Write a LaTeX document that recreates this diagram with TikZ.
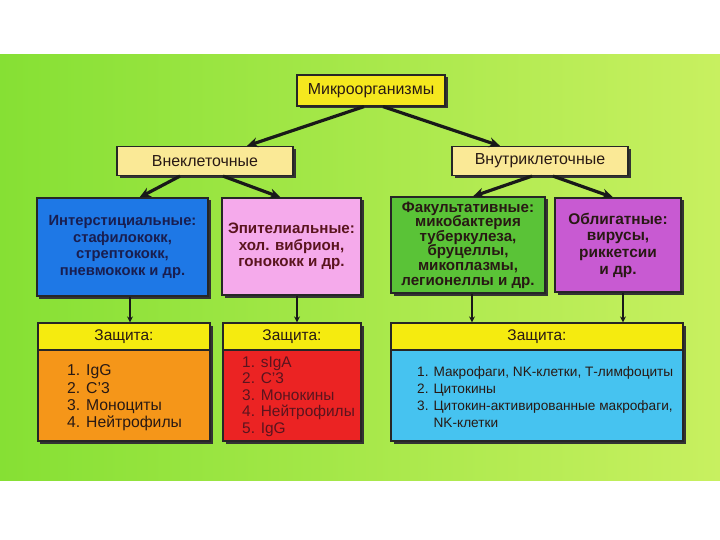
\documentclass[tikz,border=0pt]{standalone}
\usepackage{fontspec}
\setmainfont{Liberation Sans}
\usetikzlibrary{arrows.meta,shadows}
\definecolor{bgL}{RGB}{134,224,52}
\definecolor{bgR}{RGB}{200,240,96}
\definecolor{topY}{RGB}{245,232,30}
\definecolor{paleY}{RGB}{250,233,150}
\definecolor{cBlue}{RGB}{30,120,230}
\definecolor{cPink}{RGB}{245,170,235}
\definecolor{cGreen}{RGB}{90,195,55}
\definecolor{cViolet}{RGB}{200,90,210}
\definecolor{cOrange}{RGB}{245,150,25}
\definecolor{cRed}{RGB}{235,35,35}
\definecolor{cLBlue}{RGB}{70,195,240}
\definecolor{hdrY}{RGB}{245,235,15}
\definecolor{ink}{RGB}{40,25,20}
\definecolor{navy}{RGB}{25,30,80}
\definecolor{maroon}{RGB}{90,20,30}
\begin{document}
\begin{tikzpicture}[x=1bp,y=-1bp,
  box/.style={draw=black!85, line width=1.2bp, inner sep=0pt, align=center, text=ink,
    drop shadow={shadow xshift=2.5bp, shadow yshift=-2.5bp, fill=black!80, opacity=1}},
  hdr/.style={draw=black!85, line width=1.2bp, fill=hdrY, inner sep=0pt, text=ink,
    font=\fontsize{15.5}{17}\selectfont},
  fat/.style={line width=3.2bp, draw=black!90, -{Stealth[length=11bp,width=10bp]}},
  thin/.style={line width=2bp, draw=black!90, -{Stealth[length=6bp,width=6bp]}},
  lst/.style={anchor=north west, align=left, inner sep=0pt, text=ink}
]
\useasboundingbox (0,0) rectangle (720,540);
\fill[white] (0,0) rectangle (720,540);
\shade[left color=bgL, right color=bgR] (0,55) rectangle (720,480);

% level 0
\node[box, fill=topY, minimum width=148bp, minimum height=31bp,
  font=\fontsize{16}{18}\selectfont] (top) at (371,90.5) {Микроорганизмы};
% level 1
\node[box, fill=paleY, minimum width=176bp, minimum height=29bp,
  font=\fontsize{16}{18}\selectfont] (ext) at (205,161) {Внеклеточные};
\node[box, fill=paleY, minimum width=176bp, minimum height=29bp,
  font=\fontsize{16}{18}\selectfont] (int) at (540,161) {Внутриклеточные};
% level 2
\node[box, fill=cBlue, text=navy, minimum width=171bp, minimum height=98bp,
  font=\bfseries\fontsize{14.8}{16.7}\selectfont] (blue) at (122.5,247)
  {Интерстициальные:\\стафилококк,\\стрептококк,\\пневмококк и др.};
\node[box, fill=cPink, text=maroon, minimum width=139bp, minimum height=97bp,
  font=\bfseries\fontsize{15.2}{16.7}\selectfont] (pink) at (291.5,246.5)
  {Эпителиальные:\\хол. вибрион,\\гонококк и др.};
\node[box, fill=cGreen, minimum width=154bp, minimum height=96bp,
  font=\bfseries\fontsize{15.2}{14.7}\selectfont] (green) at (468,245)
  {Факультативные:\\микобактерия\\туберкулеза,\\бруцеллы,\\микоплазмы,\\легионеллы и др.};
\node[box, fill=cViolet, minimum width=126bp, minimum height=94bp,
  font=\bfseries\fontsize{15.5}{16.7}\selectfont] (violet) at (618,245)
  {Облигатные:\\вирусы,\\риккетсии\\и др.};
% level 3
\node[box, fill=cOrange, minimum width=172bp, minimum height=118bp] (ob) at (124,382) {};
\node[hdr, minimum width=172bp, minimum height=27bp, anchor=north] (obh) at (ob.north) {Защита:};
\node[lst, font=\fontsize{15.8}{17.5}\selectfont] (obl) at (67,364.5)
  {1. IgG\\2. C'3\\3. Моноциты\\4. Нейтрофилы};

\node[box, fill=cRed, minimum width=138bp, minimum height=118bp] (rb) at (292,382) {};
\node[hdr, minimum width=138bp, minimum height=27bp, anchor=north] (rbh) at (rb.north) {Защита:};
\node[lst, text=maroon, font=\fontsize{15.5}{16.5}\selectfont] (rbl) at (242,356.5)
  {1. sIgA\\2. C'3\\3. Монокины\\4. Нейтрофилы\\5. IgG};

\node[box, fill=cLBlue, minimum width=292bp, minimum height=118bp] (lb) at (537,382) {};
\node[hdr, minimum width=292bp, minimum height=27bp, anchor=north] (lbh) at (lb.north) {Защита:};
\node[lst, font=\fontsize{13.7}{17}\selectfont] (lbl) at (417,366.5)
  {1. Макрофаги, NK-клетки, Т-лимфоциты\\2. Цитокины\\3. Цитокин-активированные макрофаги,\\\phantom{3. }NK-клетки};

% arrows
\draw[fat] ([xshift=-7bp]top.south) -- ([xshift=42bp]ext.north);
\draw[fat] ([xshift=12bp]top.south) -- ([xshift=-40bp]int.north);
\draw[fat] ([xshift=-25bp]ext.south) -- ([xshift=17bp]blue.north);
\draw[fat] ([xshift=18bp]ext.south) -- ([xshift=-11bp]pink.north);
\draw[fat] ([xshift=-8bp]int.south) -- ([xshift=5bp]green.north);
\draw[fat] ([xshift=13bp]int.south) -- ([xshift=-5bp]violet.north);
\draw[thin] ([xshift=7.5bp]blue.south) -- ([xshift=7.5bp]blue.south |- ob.north);
\draw[thin] ([xshift=5.5bp]pink.south) -- ([xshift=5.5bp]pink.south |- rb.north);
\draw[thin] ([xshift=4bp]green.south) -- ([xshift=4bp]green.south |- lb.north);
\draw[thin] ([xshift=5bp]violet.south) -- ([xshift=5bp]violet.south |- lb.north);
\end{tikzpicture}
\end{document}
